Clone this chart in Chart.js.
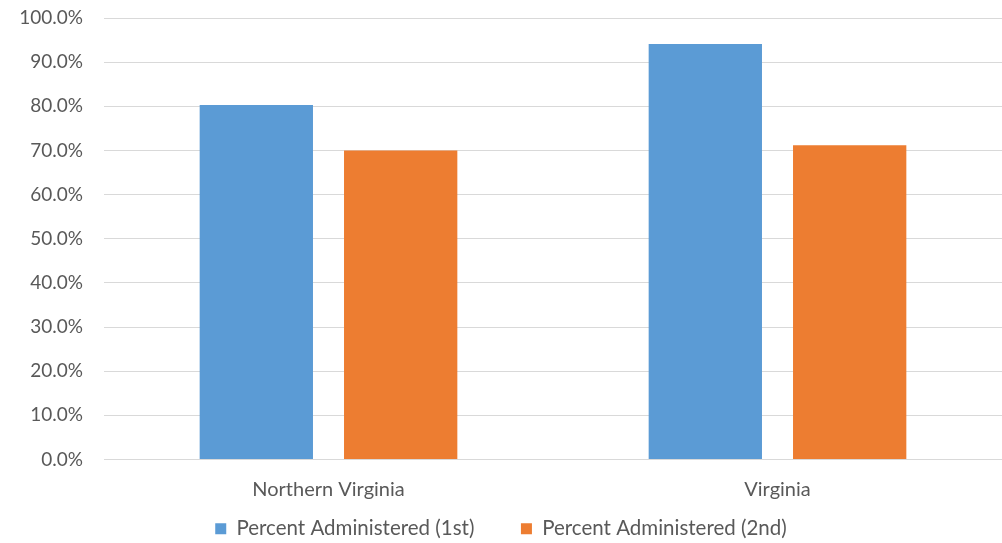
<!DOCTYPE html>
<html>
<head>
<meta charset="utf-8">
<script src="https://cdn.jsdelivr.net/npm/chart.js@4/dist/chart.umd.min.js"></script>
<style>
  html, body { margin: 0; padding: 0; background: #ffffff; }
  #wrap { width: 1002px; height: 543px; position: relative; }
</style>
</head>
<body>
<div id="wrap"><canvas id="c" width="1002" height="543"></canvas></div>
<script>
const categories = ["Northern Virginia", "Virginia"];
const series1Name = "Percent Administered (1st)";
const series1 = [80.3, 94.1];
const series2Name = "Percent Administered (2nd)";
const series2 = [70.0, 71.2];
const yTicks = [0, 10, 20, 30, 40, 50, 60, 70, 80, 90, 100];

const FONT = "Lato, 'Open Sans', sans-serif";
const TXT = "#595959";

new Chart(document.getElementById("c"), {
  type: "bar",
  data: {
    labels: categories,
    datasets: [
      { label: series1Name, data: series1, backgroundColor: "#5b9bd5", borderWidth: 0,
        categoryPercentage: 0.643, barPercentage: 0.785 },
      { label: series2Name, data: series2, backgroundColor: "#ed7d31", borderWidth: 0,
        categoryPercentage: 0.643, barPercentage: 0.785 }
    ]
  },
  options: {
    responsive: false,
    animation: false,
    devicePixelRatio: 1,
    layout: { padding: { top: 0, right: 0, left: 0, bottom: -6 } },
    plugins: {
      tooltip: { enabled: false },
      legend: {
        position: "bottom",
        labels: {
          boxWidth: 11, boxHeight: 11, padding: 3,
          color: TXT, font: { family: FONT, size: 20.5 },
          generateLabels: (chart) => {
            const items = Chart.defaults.plugins.legend.labels.generateLabels(chart);
            // widen spacing between legend entries (gap after each non-last entry)
            items.forEach((it, i) => { if (i < items.length - 1) it.text = it.text + "\u2003\u2003\u2002\u2009"; });
            return items;
          }
        }
      }
    },
    scales: {
      x: {
        grid: { display: false, drawTicks: false },
        border: { display: true, color: "#d9d9d9", width: 1 },
        ticks: { color: TXT, font: { family: FONT, size: 20 }, padding: 18 },
        afterFit: (s) => { s.height -= 4; }
      },
      y: {
        min: 0, max: 100,
        afterBuildTicks: (axis) => { axis.ticks = yTicks.map(v => ({ value: v })); },
        afterFit: (s) => { s.paddingTop = 18; s.width = 104; },
        grid: { color: "#d9d9d9", lineWidth: 1, drawTicks: false },
        border: { display: false },
        ticks: {
          color: TXT, font: { family: FONT, size: 19 }, padding: 21,
          callback: (v) => Number(v).toFixed(1) + "%"
        }
      }
    }
  }
});
</script>
</body>
</html>
